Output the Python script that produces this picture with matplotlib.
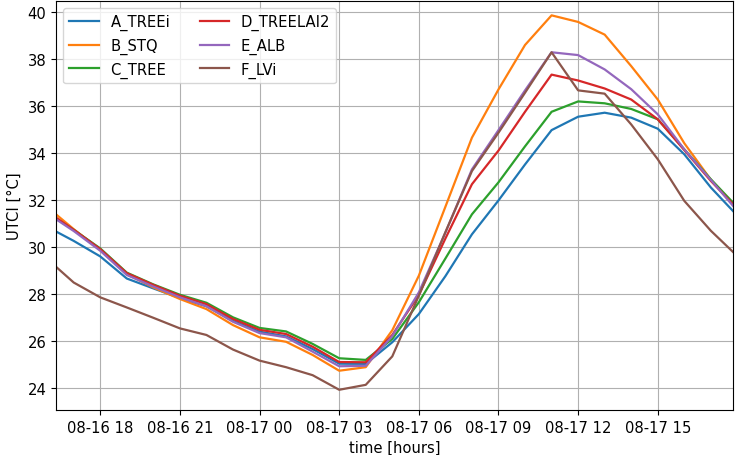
import numpy as np
import pandas as pd
import matplotlib
matplotlib.use("Agg")
import matplotlib.pyplot as plt
import matplotlib.dates as mdates

plt.rcParams["font.size"] = 10.6

# time axis: first sample 16:20, hourly 17:00..17:00, last sample 17:50
times = ([pd.Timestamp("2023-08-16 16:20")]
         + list(pd.date_range("2023-08-16 17:00", "2023-08-17 17:00", freq="h"))
         + [pd.Timestamp("2023-08-17 17:50")])

A_TREEi = [30.65, 30.25, 29.59, 28.65, 28.23, 27.82, 27.47, 26.85, 26.39, 26.19, 25.65, 25.03, 25.02,
           25.94, 27.14, 28.75, 30.53, 31.97, 33.50, 34.96, 35.53, 35.70, 35.49, 35.02, 33.93, 32.52, 31.52]
B_STQ = [31.38, 30.75, 29.87, 28.84, 28.27, 27.78, 27.35, 26.67, 26.15, 25.96, 25.40, 24.73, 24.88,
         26.45, 28.77, 31.70, 34.64, 36.69, 38.58, 39.84, 39.56, 39.02, 37.68, 36.26, 34.40, 32.85, 31.82]
C_TREE = [31.20, 30.72, 29.93, 28.90, 28.40, 27.96, 27.62, 27.00, 26.55, 26.40, 25.87, 25.26, 25.19,
          26.08, 27.64, 29.50, 31.38, 32.74, 34.27, 35.74, 36.18, 36.10, 35.86, 35.42, 34.14, 32.87, 31.88]
D_TREELAI2 = [31.24, 30.72, 29.90, 28.88, 28.38, 27.92, 27.56, 26.93, 26.47, 26.29, 25.75, 25.10, 25.09,
              26.25, 27.95, 30.35, 32.66, 34.09, 35.74, 37.32, 37.07, 36.73, 36.26, 35.42, 34.11, 32.80, 31.81]
E_ALB = [31.17, 30.67, 29.83, 28.80, 28.31, 27.85, 27.47, 26.81, 26.33, 26.15, 25.54, 24.92, 24.94,
         26.20, 28.06, 30.60, 33.29, 34.96, 36.65, 38.27, 38.15, 37.54, 36.70, 35.63, 34.14, 32.84, 31.74]
F_LVi = [29.15, 28.48, 27.85, 27.42, 26.98, 26.53, 26.25, 25.63, 25.16, 24.88, 24.54, 23.92, 24.13,
         25.34, 27.92, 30.62, 33.22, 34.85, 36.55, 38.27, 36.65, 36.51, 35.20, 33.72, 31.95, 30.68, 29.78]

series = {"A_TREEi": A_TREEi, "B_STQ": B_STQ, "C_TREE": C_TREE,
          "D_TREELAI2": D_TREELAI2, "E_ALB": E_ALB, "F_LVi": F_LVi}

fig = plt.figure(figsize=(7.36, 4.56), dpi=100)
ax = fig.add_axes([56 / 736, 45 / 456, 677 / 736, 409 / 456])

for name, vals in series.items():
    ax.plot(times, vals, label=name, lw=1.6)

ax.set_xlim(times[0], times[-1])
ax.set_ylim(23.06, 40.45)
ax.set_yticks([24, 26, 28, 30, 32, 34, 36, 38, 40])
ax.xaxis.set_major_locator(mdates.HourLocator(byhour=range(0, 24, 3)))
ax.xaxis.set_major_formatter(mdates.DateFormatter("%m-%d %H"))
ax.set_xlabel("time [hours]")
ax.set_ylabel("UTCI [°C]")
ax.grid(True)
ax.legend(loc="upper left", ncol=2)

fig.savefig("out.png", dpi=100)
